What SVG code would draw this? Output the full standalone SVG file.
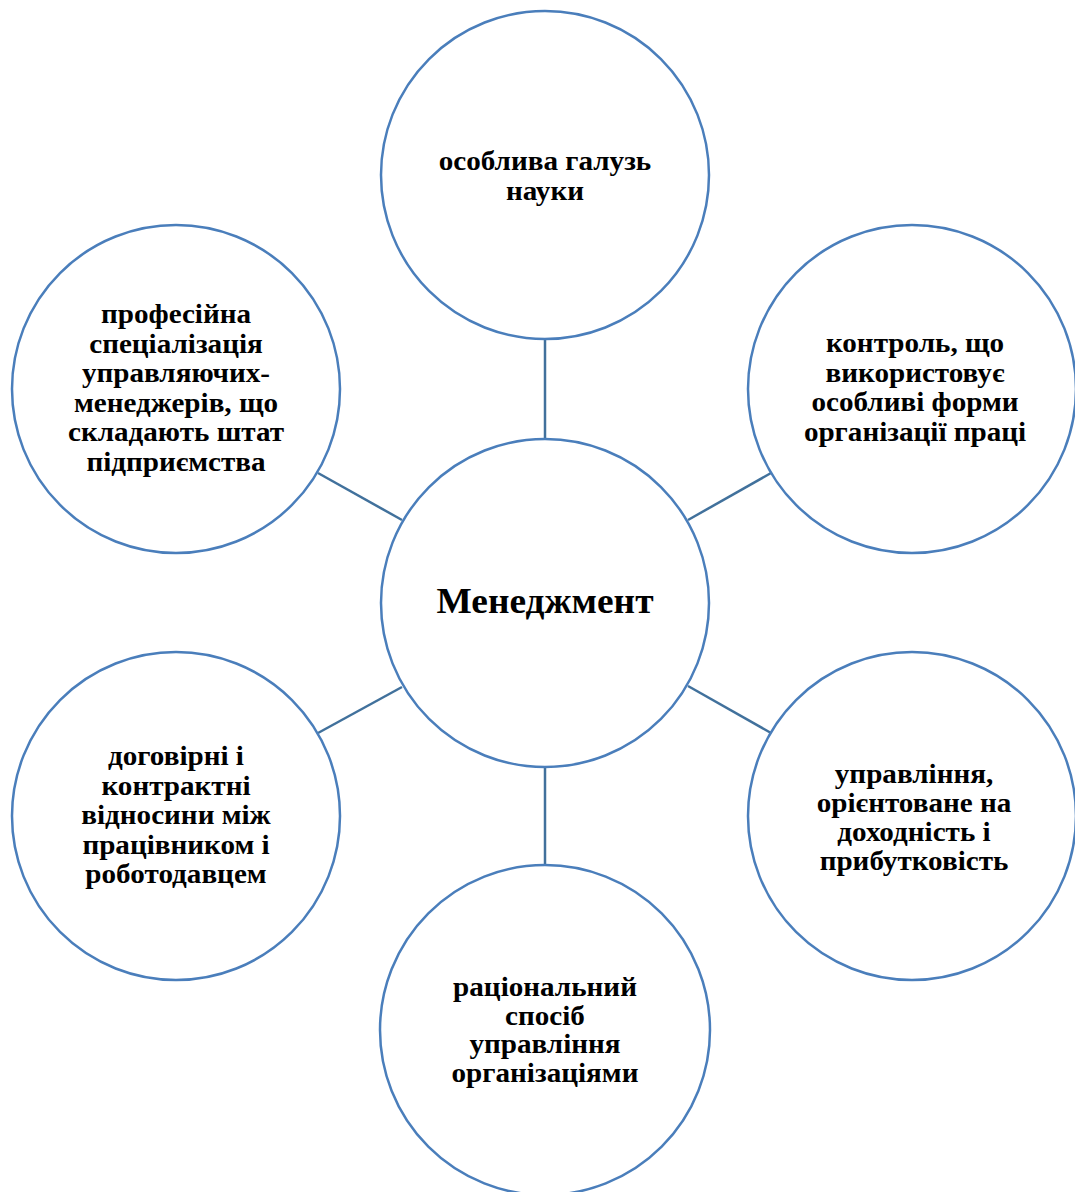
<svg xmlns="http://www.w3.org/2000/svg" width="1075" height="1192" viewBox="0 0 1075 1192">
<style>
.node circle{fill:#fff;stroke:#4a7ebb;stroke-width:2.5}
.node text{font-family:"Liberation Serif","Times New Roman",serif;font-weight:bold;font-size:26px;fill:#000;text-anchor:middle}
#connectors line{stroke:#41719c;stroke-width:2.5}
</style>
<rect width="1075" height="1192" fill="#fff"/>
<g id="connectors">
<line x1="545" y1="339" x2="545" y2="438"/>
<line x1="545" y1="767" x2="545" y2="865"/>
<line x1="318" y1="473" x2="402" y2="520"/>
<line x1="688" y1="520" x2="771" y2="473"/>
<line x1="318" y1="733" x2="402" y2="687"/>
<line x1="688" y1="686" x2="771" y2="733"/>
</g>
<g id="center" class="node">
<circle cx="545" cy="603" r="164"/>
<text transform="translate(545,613) scale(1.1,1.08)" style="font-size:34px">Менеджмент</text>
</g>
<g id="top" class="node">
<circle cx="545" cy="175" r="164"/>
<text transform="translate(545,170) scale(1.12,1.06)">особлива галузь</text>
<text transform="translate(545,200) scale(1.12,1.06)">науки</text>
</g>
<g id="top-left" class="node">
<circle cx="176" cy="389" r="164"/>
<text transform="translate(176,323) scale(1.12,1.06)">професійна</text>
<text transform="translate(176,352.6) scale(1.12,1.06)">спеціалізація</text>
<text transform="translate(176,382.2) scale(1.12,1.06)">управляючих-</text>
<text transform="translate(176,411.8) scale(1.12,1.06)">менеджерів, що</text>
<text transform="translate(176,441.4) scale(1.12,1.06)">складають штат</text>
<text transform="translate(176,471) scale(1.12,1.06)">підприємства</text>
</g>
<g id="top-right" class="node">
<circle cx="912" cy="389" r="164"/>
<text transform="translate(915,352) scale(1.12,1.06)">контроль, що</text>
<text transform="translate(915,381.5) scale(1.12,1.06)">використовує</text>
<text transform="translate(915,411) scale(1.12,1.06)">особливі форми</text>
<text transform="translate(915,440.5) scale(1.12,1.06)">організації праці</text>
</g>
<g id="bottom-left" class="node">
<circle cx="176" cy="816" r="164"/>
<text transform="translate(176,765) scale(1.12,1.06)">договірні і</text>
<text transform="translate(176,794.5) scale(1.12,1.06)">контрактні</text>
<text transform="translate(176,824) scale(1.12,1.06)">відносини між</text>
<text transform="translate(176,853.5) scale(1.12,1.06)">працівником і</text>
<text transform="translate(176,883) scale(1.12,1.06)">роботодавцем</text>
</g>
<g id="bottom-right" class="node">
<circle cx="912" cy="816" r="164"/>
<text transform="translate(914,783) scale(1.12,1.06)">управління,</text>
<text transform="translate(914,812) scale(1.12,1.06)">орієнтоване на</text>
<text transform="translate(914,841) scale(1.12,1.06)">доходність і</text>
<text transform="translate(914,870) scale(1.12,1.06)">прибутковість</text>
</g>
<g id="bottom" class="node">
<circle cx="545" cy="1030" r="165"/>
<text transform="translate(545,996) scale(1.12,1.06)">раціональний</text>
<text transform="translate(545,1024.7) scale(1.12,1.06)">спосіб</text>
<text transform="translate(545,1053.4) scale(1.12,1.06)">управління</text>
<text transform="translate(545,1082) scale(1.12,1.06)">організаціями</text>
</g>
</svg>
